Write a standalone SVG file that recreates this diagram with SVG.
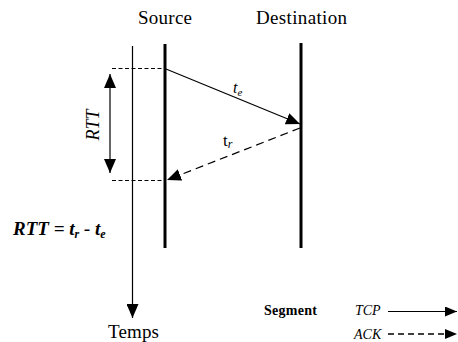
<svg xmlns="http://www.w3.org/2000/svg" width="458" height="342" viewBox="0 0 458 342">
<style>
  text { font-family: "Liberation Serif", "Times New Roman", "DejaVu Serif", serif; fill: #000; }
  .hdr { font-size: 19px; }
  .it { font-style: italic; }
  .thick { stroke: #000; stroke-width: 3; fill: none; }
  .thin { stroke: #000; stroke-width: 1.2; fill: none; }
  .guide { stroke: #000; stroke-width: 1.2; stroke-dasharray: 4 2.5; fill: none; }
  .msg { stroke: #000; stroke-width: 1.2; fill: none; }
  .ack { stroke: #000; stroke-width: 1.2; stroke-dasharray: 8 5; fill: none; }
  .legack { stroke: #000; stroke-width: 1.4; stroke-dasharray: 6 4; fill: none; }
</style>
<defs>
  <marker id="ah" viewBox="0 0 14 12" refX="14" refY="6" markerWidth="14" markerHeight="12" markerUnits="userSpaceOnUse" orient="auto">
    <path d="M0,0 L14,6 L0,12 Z" fill="#000"/>
  </marker>
  <marker id="ahs" viewBox="0 0 12 10" refX="12" refY="5" markerWidth="12" markerHeight="10" markerUnits="userSpaceOnUse" orient="auto">
    <path d="M0,0 L12,5 L0,10 Z" fill="#000"/>
  </marker>
</defs>

<g id="source">
  <text class="hdr" x="138" y="24" textLength="54">Source</text>
  <line class="thick" x1="165" y1="44" x2="165" y2="248"/>
</g>
<g id="destination">
  <text class="hdr" x="256" y="24" textLength="91">Destination</text>
  <line class="thick" x1="301" y1="43" x2="301" y2="248"/>
</g>
<g id="temps">
  <line class="thin" x1="132.5" y1="46" x2="132.5" y2="318" marker-end="url(#ah)"/>
  <text class="hdr" x="108" y="338" textLength="51">Temps</text>
</g>
<g id="rtt">
  <line class="thin" x1="110" y1="123" x2="110" y2="74" marker-end="url(#ah)"/>
  <line class="thin" x1="110" y1="123" x2="110" y2="173" marker-end="url(#ah)"/>
  <text class="it" font-size="18" transform="translate(99,125) rotate(-90)" text-anchor="middle">RTT</text>
</g>
<g id="formula">
  <text class="it" font-size="19" font-weight="bold" x="13" y="235">RTT = t<tspan font-size="12" dy="3">r</tspan><tspan dy="-3"> - t</tspan><tspan font-size="12" dy="3">e</tspan></text>
</g>
<g id="connectors">
  <line class="guide" x1="112" y1="68.5" x2="165" y2="68.5"/>
  <line class="guide" x1="112" y1="180.5" x2="165" y2="180.5"/>
  <line class="msg" x1="166" y1="69" x2="300" y2="124" marker-end="url(#ah)"/>
  <line class="ack" x1="300" y1="128" x2="167" y2="180" marker-end="url(#ah)"/>
</g>
<g id="labels">
  <text class="it" font-size="16" x="233" y="93">t<tspan font-size="11" dy="3">e</tspan></text>
  <text font-size="17" x="223" y="146">t<tspan class="it" font-size="12" dy="2">r</tspan></text>
</g>
<g id="legend">
  <text font-size="14" font-weight="bold" x="264" y="315" textLength="53">Segment</text>
  <text class="it" font-size="14" x="355" y="315">TCP</text>
  <line class="msg" x1="388" y1="311.5" x2="457" y2="311.5" stroke-width="1.4" marker-end="url(#ahs)"/>
  <text class="it" font-size="14" x="354" y="339">ACK</text>
  <line class="legack" x1="388" y1="334" x2="457" y2="334" marker-end="url(#ahs)"/>
</g>
</svg>
